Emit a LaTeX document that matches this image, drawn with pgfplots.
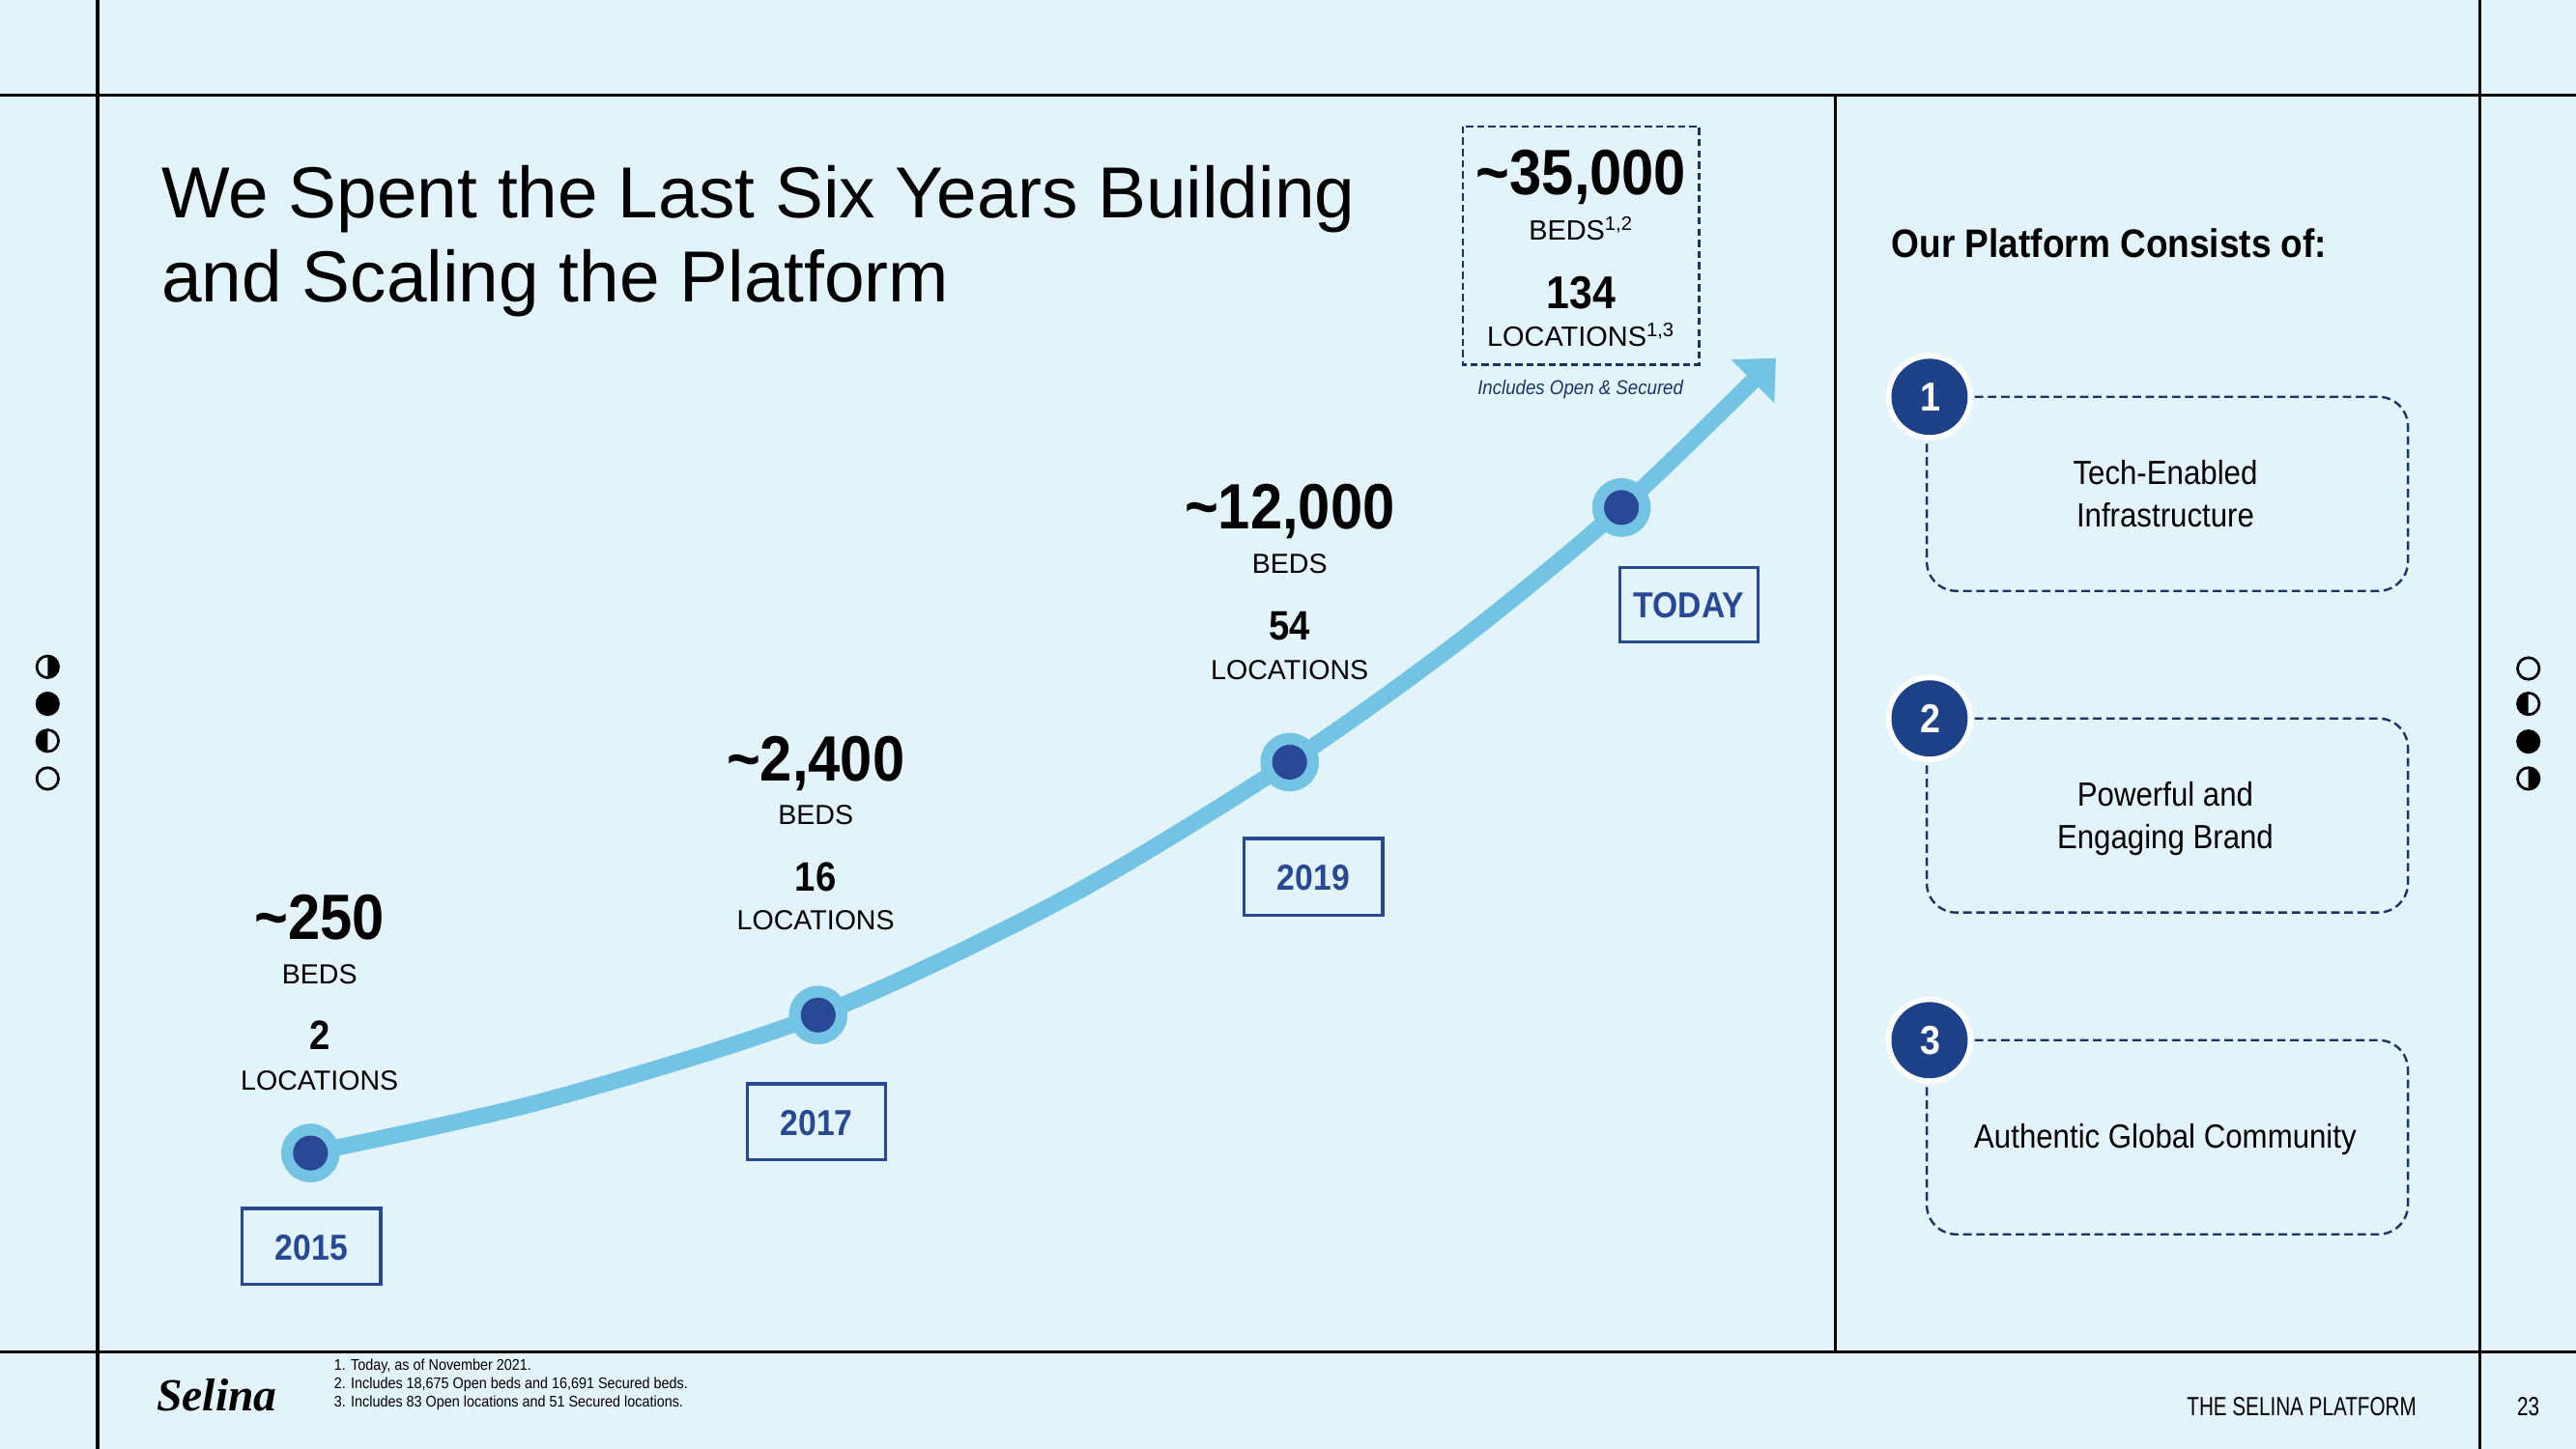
\documentclass[border=0pt]{standalone}
\usepackage{pgfplots}
\pgfplotsset{compat=1.18}
\usepackage{pgfplotstable}
\usetikzlibrary{arrows.meta}
\usepackage{fontspec}
\setmainfont{Liberation Sans}
\newfontfamily\cond[FakeStretch=0.9]{Liberation Sans}
\newfontfamily\ncond[FakeStretch=0.76]{Liberation Sans}
\newfontfamily\logofont{Liberation Serif}
\definecolor{bgcol}{RGB}{226,244,250}
\definecolor{curvecol}{RGB}{115,196,228}
\definecolor{dotcol}{RGB}{43,72,150}
\definecolor{boxcol}{RGB}{39,72,146}
\definecolor{navy}{RGB}{27,52,100}
\definecolor{numcol}{RGB}{30,66,136}
\newcommand\fs[1]{\fontsize{#1}{#1}\selectfont}

\pgfplotstableread{
x y
189 702
332 670
498 618
650 546
785 464
890 389
987 309
1081 218
}\curvedata

\pgfplotstableread{
x y
189 702
498 618
785 464
987 309
}\milestones

\begin{document}
\begin{tikzpicture}[lab/.style={inner sep=0pt, anchor=base}]
\fill[bgcol] (0,0) rectangle (784pt,441pt);
\begin{axis}[at={(0,0)}, anchor=south west, scale only axis,
  width=784pt, height=441pt, xmin=0, xmax=1568, ymin=0, ymax=882,
  y dir=reverse, hide axis, clip=false]

% frame lines
\draw[black, line width=1pt] (axis cs:0,58) -- (axis cs:1568,58);
\draw[black, line width=1pt] (axis cs:0,823) -- (axis cs:1568,823);
\draw[black, line width=1pt] (axis cs:59.5,0) -- (axis cs:59.5,882);
\draw[black, line width=1pt] (axis cs:1509.5,0) -- (axis cs:1509.5,882);
\draw[black, line width=1pt] (axis cs:1117,58) -- (axis cs:1117,823);

% title
\node[inner sep=0pt, anchor=base west] at (axis cs:98,132.4) {\fs{22}We Spent the Last Six Years Building};
\node[inner sep=0pt, anchor=base west] at (axis cs:98,184) {\fs{22}and Scaling the Platform};

% growth curve
\addplot[curvecol, line width=5pt, smooth, -{Triangle[length=10pt,width=18pt]}] table {\curvedata};
\addplot[only marks, color=curvecol, mark=*, mark size=8.8pt, mark options={solid, fill=curvecol, draw=curvecol, line width=0.2pt}] table {\milestones};
\addplot[only marks, color=dotcol, mark=*, mark size=5.2pt, mark options={solid, fill=dotcol, draw=dotcol, line width=0.2pt}] table {\milestones};

% year boxes
\draw[boxcol, line width=1pt] (axis cs:147.5,735.7) rectangle (axis cs:231.7,781.8);
\node[lab] at (axis cs:189.6,767) {\cond\bfseries\fs{11}\color{boxcol}2015};
\draw[boxcol, line width=1pt] (axis cs:455,660) rectangle (axis cs:539,706);
\node[lab] at (axis cs:497,691.5) {\cond\bfseries\fs{11}\color{boxcol}2017};
\draw[boxcol, line width=1pt] (axis cs:757.4,510.4) rectangle (axis cs:841.6,557.3);
\node[lab] at (axis cs:799.5,542) {\cond\bfseries\fs{11}\color{boxcol}2019};
\draw[boxcol, line width=1pt] (axis cs:985.9,345.7) rectangle (axis cs:1070,390.8);
\node[lab] at (axis cs:1028,376) {\cond\bfseries\fs{11}\color{boxcol}TODAY};

% milestone labels
\node[lab] at (axis cs:194.5,572) {\cond\bfseries\fs{19.5}\textasciitilde250};
\node[lab] at (axis cs:194.5,599) {\fs{8.4}BEDS};
\node[lab] at (axis cs:194.5,639) {\cond\bfseries\fs{12.5}2};
\node[lab] at (axis cs:194.5,663.6) {\fs{8.4}LOCATIONS};

\node[lab] at (axis cs:496.5,475.4) {\cond\bfseries\fs{19.5}\textasciitilde2,400};
\node[lab] at (axis cs:496.5,502) {\fs{8.4}BEDS};
\node[lab] at (axis cs:496.5,542.7) {\cond\bfseries\fs{12.5}16};
\node[lab] at (axis cs:496.5,566.3) {\fs{8.4}LOCATIONS};

\node[lab] at (axis cs:785,322) {\cond\bfseries\fs{19.5}\textasciitilde12,000};
\node[lab] at (axis cs:785,349) {\fs{8.4}BEDS};
\node[lab] at (axis cs:785,389.5) {\cond\bfseries\fs{12.5}54};
\node[lab] at (axis cs:785,413.5) {\fs{8.4}LOCATIONS};

% today box
\draw[navy, line width=0.7pt, dash pattern=on 2.2pt off 1.2pt] (axis cs:890.5,77) rectangle (axis cs:1034.2,222);
\node[lab] at (axis cs:962.5,118.6) {\cond\bfseries\fs{19.5}\textasciitilde35,000};
\node[lab] at (axis cs:962.5,146) {\fs{8.5}BEDS\textsuperscript{1,2}};
\node[lab] at (axis cs:962.5,187.7) {\cond\bfseries\fs{14}134};
\node[lab] at (axis cs:962.5,210.7) {\fs{8.5}LOCATIONS\textsuperscript{1,3}};
\node[lab] at (axis cs:962,240) {\cond\itshape\fs{6.1}\color{navy}Includes Open \& Secured};

% right panel
\node[inner sep=0pt, anchor=base west] at (axis cs:1151,157) {\cond\bfseries\fs{12.1}Our Platform Consists of:};

\foreach \yy/\num in {241.6/1,437.4/2,633.3/3}{
  \edef\temp{\noexpand\draw[navy, line width=0.7pt, dash pattern=on 2.6pt off 1.4pt, rounded corners=9pt]
    (axis cs:1202,\yy) -- (axis cs:1465.7,\yy) -- (axis cs:1465.7,\yy+118.2) -- (axis cs:1172.8,\yy+118.2) -- (axis cs:1172.8,\yy+26);}
  \temp
  \edef\temp{\noexpand\fill[white] (axis cs:1174.5,\yy) circle[radius=13.3pt];}
  \temp
  \edef\temp{\noexpand\fill[numcol] (axis cs:1174.5,\yy) circle[radius=11.6pt];}
  \temp
  \edef\temp{\noexpand\node[inner sep=0pt, anchor=center] at (axis cs:1175,\yy) {\noexpand\cond\noexpand\bfseries\noexpand\fs{12.3}\noexpand\color{white}\num};}
  \temp
}
\node[lab] at (axis cs:1318,295) {\cond\fs{10.2}Tech-Enabled};
\node[lab] at (axis cs:1318,320.6) {\cond\fs{10.2}Infrastructure};
\node[lab] at (axis cs:1318,491) {\cond\fs{10.2}Powerful and};
\node[lab] at (axis cs:1318,516.6) {\cond\fs{10.2}Engaging Brand};
\node[lab] at (axis cs:1318,699) {\cond\fs{10.2}Authentic Global Community};

% side moon icons
\fill (axis cs:29,406) ++(90:3.3pt) arc[start angle=90,end angle=-90,radius=3.3pt] -- cycle;
\draw[line width=0.8pt] (axis cs:29,406) circle[radius=3.3pt];
\fill (axis cs:29,428.5) circle[radius=3.7pt];
\fill (axis cs:29,451) ++(90:3.3pt) arc[start angle=90,end angle=270,radius=3.3pt] -- cycle;
\draw[line width=0.8pt] (axis cs:29,451) circle[radius=3.3pt];
\draw[line width=0.8pt] (axis cs:29,474) circle[radius=3.3pt];

\draw[line width=0.8pt] (axis cs:1539,407) circle[radius=3.3pt];
\fill (axis cs:1539,428.5) ++(90:3.3pt) arc[start angle=90,end angle=270,radius=3.3pt] -- cycle;
\draw[line width=0.8pt] (axis cs:1539,428.5) circle[radius=3.3pt];
\fill (axis cs:1539,451.5) circle[radius=3.7pt];
\fill (axis cs:1539,474) ++(90:3.3pt) arc[start angle=90,end angle=-90,radius=3.3pt] -- cycle;
\draw[line width=0.8pt] (axis cs:1539,474) circle[radius=3.3pt];

% footer
\node[lab] at (axis cs:132,859) {\logofont\bfseries\itshape\fs{14}Selina};
\node[inner sep=0pt, anchor=base west] at (axis cs:203,834.5) {\cond\fs{4.7}1. Today, as of November 2021.};
\node[inner sep=0pt, anchor=base west] at (axis cs:203,845.5) {\cond\fs{4.7}2. Includes 18,675 Open beds and 16,691 Secured beds.};
\node[inner sep=0pt, anchor=base west] at (axis cs:203,856.5) {\cond\fs{4.7}3. Includes 83 Open locations and 51 Secured locations.};
\node[lab] at (axis cs:1401,861.8) {\ncond\fs{8}THE SELINA PLATFORM};
\node[lab] at (axis cs:1539,861.8) {\ncond\fs{8}23};
\end{axis}
\pgfresetboundingbox
\useasboundingbox (0,0) rectangle (784pt,441pt);
\end{tikzpicture}
\end{document}
